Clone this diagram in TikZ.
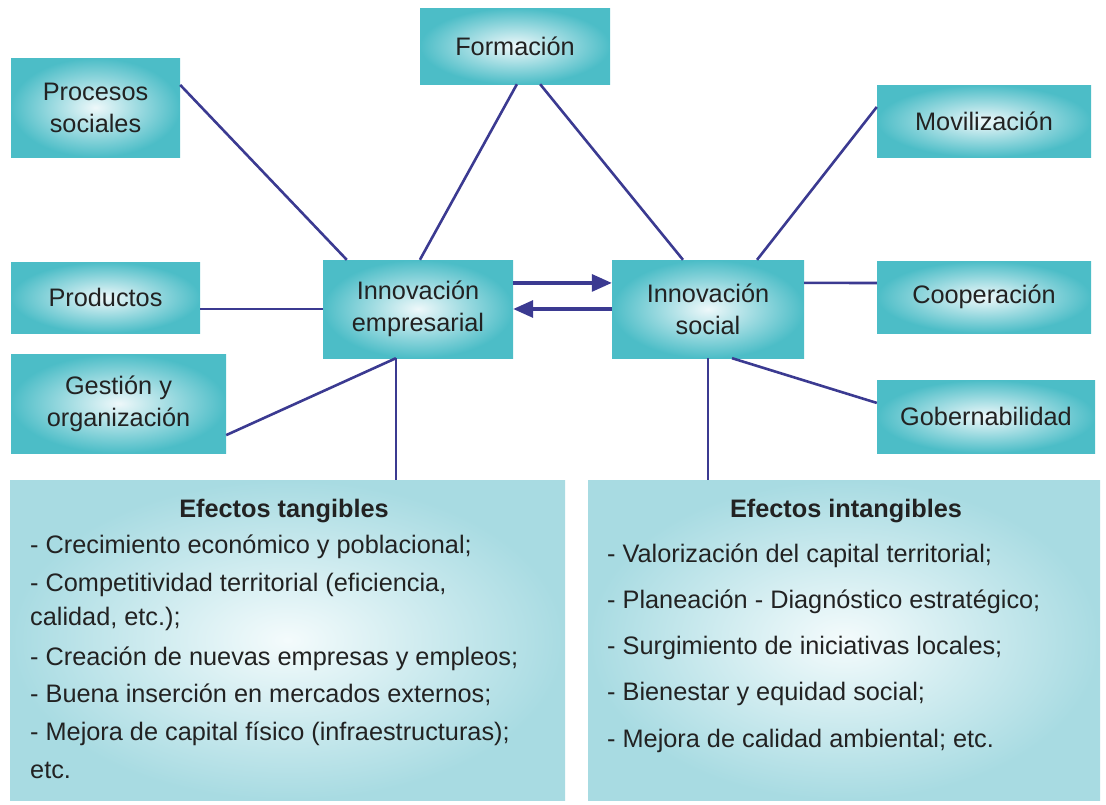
\documentclass[tikz,border=0pt]{standalone}
\usepackage{fontspec}
\setmainfont{Liberation Sans}
\usetikzlibrary{arrows.meta,calc}
\definecolor{tealout}{HTML}{4CBDC7}
\definecolor{tealin}{HTML}{EEF8FA}
\definecolor{paleout}{HTML}{A8DBE2}
\definecolor{palein}{HTML}{F4FBFC}
\definecolor{lnk}{HTML}{3B3A91}
\definecolor{txt}{HTML}{222222}
\tikzset{
  concept/.style={rectangle, inner sep=0pt, shading=radial, inner color=tealin, outer color=tealout,
    text=txt, align=center, font=\fontsize{25.3}{32}\selectfont},
  effect/.style={rectangle, inner sep=0pt, shading=radial, inner color=palein, outer color=paleout},
  link/.style={draw=lnk, line width=2.6pt},
  flow/.style={draw=lnk, line width=3.2pt, -{Triangle[length=20pt,width=17pt]}},
  item/.style={anchor=base west, inner sep=0pt, text=txt, font=\fontsize{25.3}{30}\selectfont},
  head/.style={anchor=base, inner sep=0pt, text=txt, font=\bfseries\fontsize{25.3}{30}\selectfont},
}
\begin{document}
\begin{tikzpicture}[x=1pt,y=-1pt]
\useasboundingbox (0,0) rectangle (1106,804);
% concept boxes
\node[concept, minimum width=190pt, minimum height=76pt] (form) at (515,46) {Formación};
\node[concept, minimum width=169pt, minimum height=99pt] (proc) at (95.5,107.5) {Procesos\\sociales};
\node[concept, minimum width=214pt, minimum height=72pt] (movi) at (984,121) {Movilización};
\node[concept, minimum width=190pt, minimum height=98pt] (ie) at (418,309) {Innovación\\empresarial};
\node[concept, minimum width=192pt, minimum height=98pt] (is) at (708,309) {Innovación\\social};
\node[concept, minimum width=189pt, minimum height=71pt] (prod) at (105.5,297.5) {Productos};
\node[concept, minimum width=214pt, minimum height=72pt] (coop) at (984,297) {Cooperación};
\node[concept, minimum width=215pt, minimum height=99pt] (gest) at (118.5,403.5) {Gestión y\\organización};
\node[concept, minimum width=218pt, minimum height=73pt] (gob) at (986,416.5) {Gobernabilidad};
% effect boxes
\node[effect, minimum width=555pt, minimum height=320pt] (tang) at (287.5,640) {};
\node[effect, minimum width=512pt, minimum height=320pt] (intang) at (844,640) {};
% texts of effect boxes
\node[head] (th) at (284,517) {Efectos tangibles};
\node[item] (t1) at (30,553) {- Crecimiento económico y poblacional;};
\node[item] (t2) at (30,591) {- Competitividad territorial (eficiencia,};
\node[item] (t3) at (30,625) {calidad, etc.);};
\node[item] (t4) at (30,665) {- Creación de nuevas empresas y empleos;};
\node[item] (t5) at (30,702) {- Buena inserción en mercados externos;};
\node[item] (t6) at (30,740) {- Mejora de capital físico (infraestructuras);};
\node[item] (t7) at (30,778) {etc.};
\node[head] (ih) at (846,517) {Efectos intangibles};
\node[item] (i1) at (607,562) {- Valorización del capital territorial;};
\node[item] (i2) at (607,608) {- Planeación - Diagnóstico estratégico;};
\node[item] (i3) at (607,654) {- Surgimiento de iniciativas locales;};
\node[item] (i4) at (607,700) {- Bienestar y equidad social;};
\node[item] (i5) at (607,747) {- Mejora de calidad ambiental; etc.};
% connectors
\draw[link] ($(proc.north east)!0.273!(proc.south east)$) -- ($(ie.north west)!0.126!(ie.north east)$);
\draw[link] ($(form.south west)!0.51!(form.south east)$) -- ($(ie.north west)!0.51!(ie.north east)$);
\draw[link] ($(form.south west)!0.632!(form.south east)$) -- ($(is.north west)!0.37!(is.north east)$);
\draw[link] ($(movi.north west)!0.306!(movi.south west)$) -- ($(is.north west)!0.755!(is.north east)$);
\draw[link] (ie.west -| prod.east) -- (ie.west);
\draw[link] ($(coop.north west)!0.306!(coop.south west)$) -- ($(is.north east)!0.235!(is.south east)$);
\draw[link] ($(gob.north west)!0.315!(gob.south west)$) -- ($(is.south west)!0.625!(is.south east)$);
\draw[link] ($(gest.north east)!0.818!(gest.south east)$) -- ($(ie.south west)!0.384!(ie.south east)$);
\coordinate (ieb) at ($(ie.south west)!0.384!(ie.south east)$);
\draw[link] (ieb) -- (ieb |- tang.north);
\draw[link] (is.south) -- (is.south |- intang.north);
\draw[flow] ($(ie.north east)!0.235!(ie.south east)$) -- ($(is.north west)!0.235!(is.south west)$);
\draw[flow] (is.west) -- (ie.east);
\end{tikzpicture}
\end{document}
